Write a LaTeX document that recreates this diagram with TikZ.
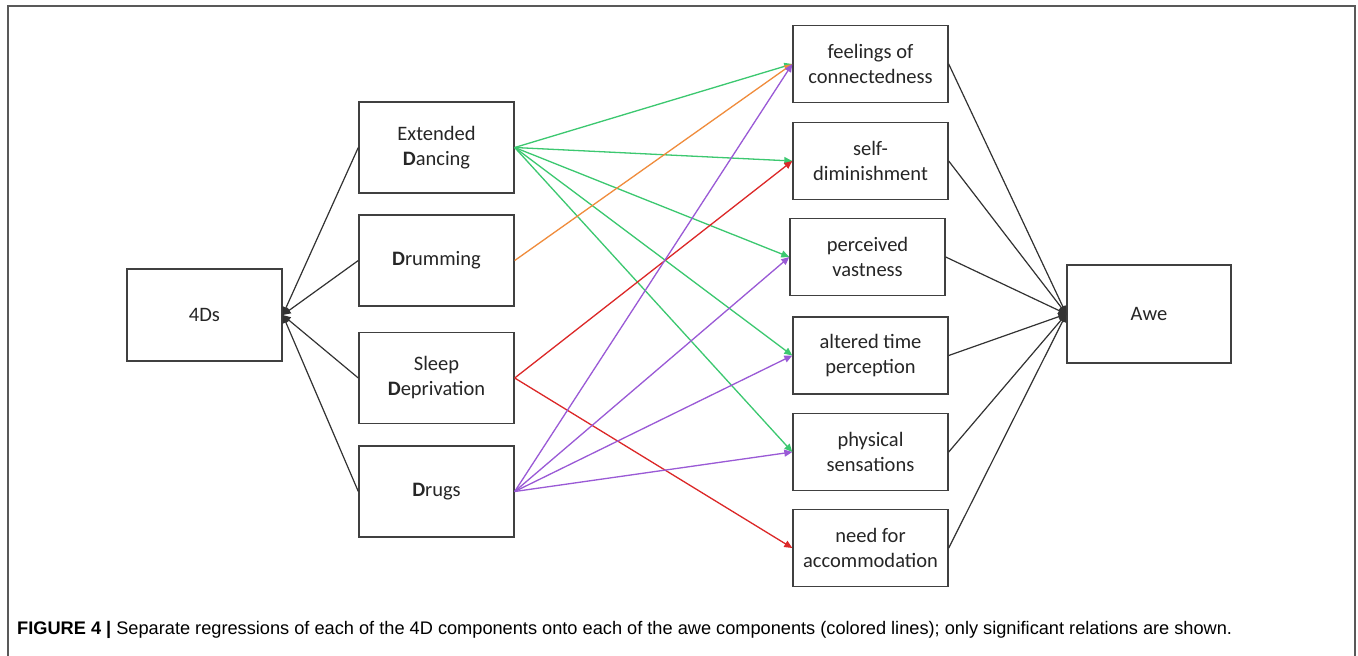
\documentclass[tikz,border=0pt]{standalone}
\usepackage{fontspec}
\setmainfont{Carlito}
\newfontfamily\capfont{Liberation Sans}
\usetikzlibrary{arrows.meta}
\definecolor{boxgray}{HTML}{404040}
\definecolor{txtgray}{HTML}{262626}
\definecolor{lgreen}{HTML}{3CC870}
\definecolor{lorange}{HTML}{F08C3C}
\definecolor{lred}{HTML}{DC2828}
\definecolor{lpurple}{HTML}{9A5AD6}
\tikzset{
  boxnode/.style={draw=boxgray, line width=1.4pt, fill=white, align=center, inner sep=0pt,
    text=txtgray, font=\fontsize{20.5}{25}\selectfont},
  leftbox/.style={boxnode, minimum width=155pt, minimum height=91pt},
  rightbox/.style={boxnode, minimum width=155pt, minimum height=77pt},
  tip/.style={-{Triangle[length=8pt,width=7pt]}},
  blk/.style={tip, draw=black!80, fill=black!80, line width=1.2pt},
  col/.style={tip, line width=1.3pt},
}
\begin{document}
\begin{tikzpicture}[x=1pt,y=-1pt]
\useasboundingbox (0,0) rectangle (1358,656);
\fill[white] (0,0) rectangle (1358,656);
\draw[line width=1.5pt, draw=black!65] (8,656) -- (8,6) -- (1355,6) -- (1355,656);

\node[boxnode, minimum width=155pt, minimum height=92pt] (fd) at (204.5,315) {4Ds};
\node[leftbox] (ed) at (436.5,147.5) {Extended\\\textbf{D}ancing};
\node[leftbox] (dr) at (436.5,260.5) {\textbf{D}rumming};
\node[leftbox] (sd) at (436.5,378) {Sleep\\\textbf{D}eprivation};
\node[leftbox] (dg) at (436.5,491.5) {\textbf{D}rugs};

\node[rightbox] (fc) at (870.5,64) {feelings of\\connectedness};
\node[rightbox] (sm) at (870.5,161) {self-\\diminishment};
\node[rightbox] (pv) at (867.5,257) {perceived\\vastness};
\node[rightbox] (at) at (870.5,355.5) {altered time\\perception};
\node[rightbox] (ps) at (870.5,452) {physical\\sensations};
\node[rightbox] (na) at (870.5,548) {need for\\accommodation};

\node[boxnode, minimum width=164pt, minimum height=98pt] (awe) at (1149,314) {Awe};

\foreach \n in {ed,dr,sd,dg} \draw[blk] (\n.west) -- (fd.east);
\foreach \n in {fc,sm,pv,at,ps,na} \draw[blk] (\n.east) -- (awe.west);

\foreach \n in {fc,sm,pv,at,ps} \draw[col, draw=lgreen, fill=lgreen] (ed.east) -- (\n.west);
\draw[col, draw=lorange, fill=lorange] (dr.east) -- (fc.west);
\foreach \n in {sm,na} \draw[col, draw=lred, fill=lred] (sd.east) -- (\n.west);
\foreach \n in {fc,pv,at,ps} \draw[col, draw=lpurple, fill=lpurple] (dg.east) -- (\n.west);

\node[anchor=base west, inner sep=0pt, font=\capfont\fontsize{18.2}{22}\selectfont] (cap) at (17,634)
 {\textbf{FIGURE 4 |} Separate regressions of each of the 4D components onto each of the awe components (colored lines); only significant relations are shown.};
\end{tikzpicture}
\end{document}
